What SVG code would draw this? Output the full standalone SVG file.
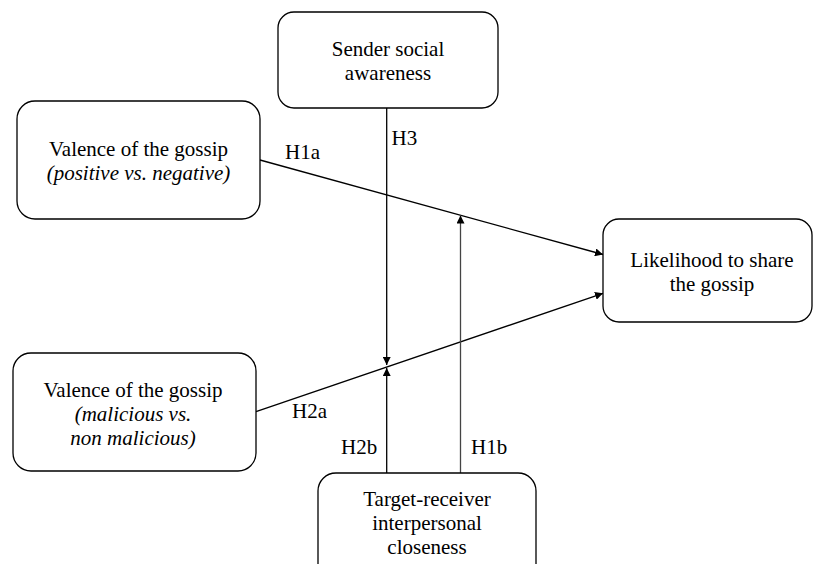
<svg xmlns="http://www.w3.org/2000/svg" width="813" height="564" viewBox="0 0 813 564">
<style>
  .box { fill: #ffffff; stroke: #000000; stroke-width: 1.3; }
  text { font-family: 'Liberation Serif', 'DejaVu Serif', serif; font-size: 21px; fill: #000000; }
  .t { text-anchor: middle; }
  .i { font-style: italic; }
  .c { stroke: #000000; stroke-width: 1.3; fill: none; }
</style>
<defs>
  <marker id="ah" viewBox="0 0 10 10" refX="10" refY="5" markerWidth="8" markerHeight="8" markerUnits="userSpaceOnUse" orient="auto">
    <path d="M0,0 L10,5 L0,10 Z" fill="#000000"/>
  </marker>
</defs>
<rect width="813" height="564" fill="#ffffff"/>

<g id="connectors">
  <line class="c" x1="260" y1="160" x2="603" y2="254.5" marker-end="url(#ah)"/>
  <line class="c" x1="256" y1="411.7" x2="603" y2="293.3" marker-end="url(#ah)"/>
  <line class="c" x1="386.7" y1="108" x2="386.7" y2="365" marker-end="url(#ah)"/>
  <line class="c" x1="386.7" y1="473" x2="386.7" y2="368" marker-end="url(#ah)"/>
  <line class="c" x1="460.5" y1="473" x2="460.5" y2="215.5" marker-end="url(#ah)" style="stroke:#444444"/>
  <text x="285" y="159">H1a</text>
  <text x="391.5" y="145">H3</text>
  <text x="292" y="418">H2a</text>
  <text x="341" y="454">H2b</text>
  <text x="471" y="454">H1b</text>
</g>

<g id="sender">
  <rect class="box" x="278" y="12" width="220" height="96" rx="16" ry="16"/>
  <text class="t" x="388" y="56">Sender social</text>
  <text class="t" x="388" y="80">awareness</text>
</g>

<g id="valence1">
  <rect class="box" x="17" y="101" width="243" height="118" rx="18" ry="18"/>
  <text class="t" x="138.5" y="156">Valence of the gossip</text>
  <text class="t i" x="138.5" y="180">(positive vs. negative)</text>
</g>

<g id="likelihood">
  <rect class="box" x="603" y="219" width="209" height="103" rx="16" ry="16"/>
  <text class="t" x="712" y="267">Likelihood to share</text>
  <text class="t" x="712" y="291">the gossip</text>
</g>

<g id="valence2">
  <rect class="box" x="13" y="353" width="243" height="118" rx="18" ry="18"/>
  <text class="t" x="133" y="397">Valence of the gossip</text>
  <text class="t i" x="133" y="421">(malicious vs.</text>
  <text class="t i" x="133" y="445">non malicious)</text>
</g>

<g id="target">
  <rect class="box" x="318" y="473" width="218" height="118" rx="18" ry="18"/>
  <text class="t" x="427" y="506">Target-receiver</text>
  <text class="t" x="427" y="530">interpersonal</text>
  <text class="t" x="427" y="554">closeness</text>
</g>
</svg>
